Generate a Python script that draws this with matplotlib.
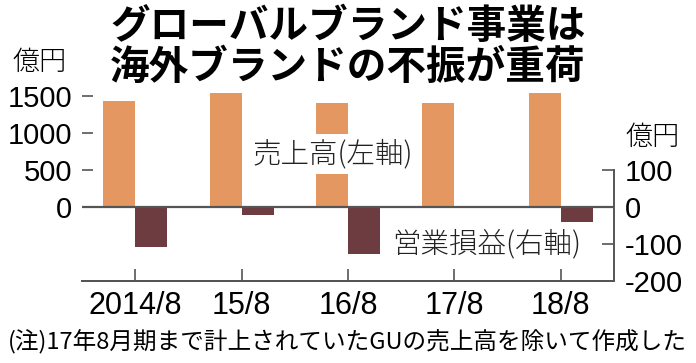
import numpy as np
import matplotlib
matplotlib.use("Agg")
import matplotlib.pyplot as plt

plt.rcParams['font.family'] = ['Noto Sans CJK JP', 'DejaVu Sans']
plt.rcParams['axes.unicode_minus'] = False

years = ['2014/8', '15/8', '16/8', '17/8', '18/8']
sales = [1430, 1540, 1400, 1410, 1545]      # 億円 (left axis)
profit = [-109, -21, -127, 4, -41]          # 億円 (right axis)
left_ticks = [0, 500, 1000, 1500]
right_ticks = [-200, -100, 0, 100]

num_font = ['Liberation Sans', 'DejaVu Sans']
c_sales = '#e59762'
c_profit = '#6d3c41'
c_line = '#555555'

fig = plt.figure(figsize=(6.96, 3.63), dpi=100)
ax = fig.add_axes([82 / 696, 82 / 363, 532 / 696, 192.4 / 363])
ax2 = ax.twinx()

x = np.arange(len(years))
w = 0.3
ax.bar(x - w / 2, sales, width=w, color=c_sales, zorder=2)
ax2.bar(x + w / 2, profit, width=w, color=c_profit, zorder=2)

ax.set_xlim(-0.5, 4.5)
ax.set_ylim(-1000, 1600)
ax2.set_ylim(-200, 320)

ax.axhline(0, color=c_line, lw=1.6, zorder=3)

for a in (ax, ax2):
    a.spines['top'].set_visible(False)
    a.spines['left'].set_visible(False)
    a.spines['bottom'].set_color(c_line)
    a.spines['bottom'].set_linewidth(1.4)
ax.spines['right'].set_visible(False)
ax2.spines['right'].set_color(c_line)
ax2.spines['right'].set_linewidth(1.4)
ax2.spines['right'].set_bounds(-200, 100)

ax.set_xticks(x)
ax.set_xticklabels(years, fontfamily=num_font, fontsize=22)
ax.tick_params(axis='x', direction='in', length=9, width=1.2, color=c_line, pad=7)

ax.set_yticks(left_ticks)
ax.set_yticklabels([str(v) for v in left_ticks], fontfamily=num_font, fontsize=21)
ax.tick_params(axis='y', direction='in', length=8, width=1.2, color=c_line, pad=7)

ax2.set_yticks(right_ticks)
ax2.set_yticklabels([str(v) for v in right_ticks], fontfamily=num_font, fontsize=21)
ax2.tick_params(axis='y', direction='in', length=9, width=1.2, color=c_line, pad=8)

ax.set_zorder(ax2.get_zorder() + 1)
ax.patch.set_visible(False)

ax.text(0.472, 0.66, '売上高(左軸)', transform=ax.transAxes, fontsize=20.5,
        fontweight='light', ha='center', va='center', color='#222222', zorder=5,
        bbox=dict(facecolor='white', edgecolor='none', pad=3))
ax.text(0.76, 0.19, '営業損益(右軸)', transform=ax.transAxes, fontsize=20.5,
        fontweight='light', ha='center', va='center', color='#222222', zorder=5,
        bbox=dict(facecolor='white', edgecolor='none', pad=1))

fig.text(348 / 696, 1 - 27 / 363, 'グローバルブランド事業は', fontsize=28.5,
         fontweight='bold', ha='center', va='center')
fig.text(348 / 696, 1 - 67 / 363, '海外ブランドの不振が重荷', fontsize=28.5,
         fontweight='bold', ha='center', va='center')
fig.text(40 / 696, 1 - 62 / 363, '億円', fontsize=19.5, fontweight='light',
         ha='center', va='center')
fig.text(625 / 696, 1 - 137 / 363, '億円', fontsize=19.5, fontweight='light',
         ha='left', va='center')
fig.text(8 / 696, 1 - 342 / 363, '(注)17年8月期まで計上されていたGUの売上高を除いて作成した',
         fontsize=17, ha='left', va='center')

fig.savefig('out.png', dpi=100)
